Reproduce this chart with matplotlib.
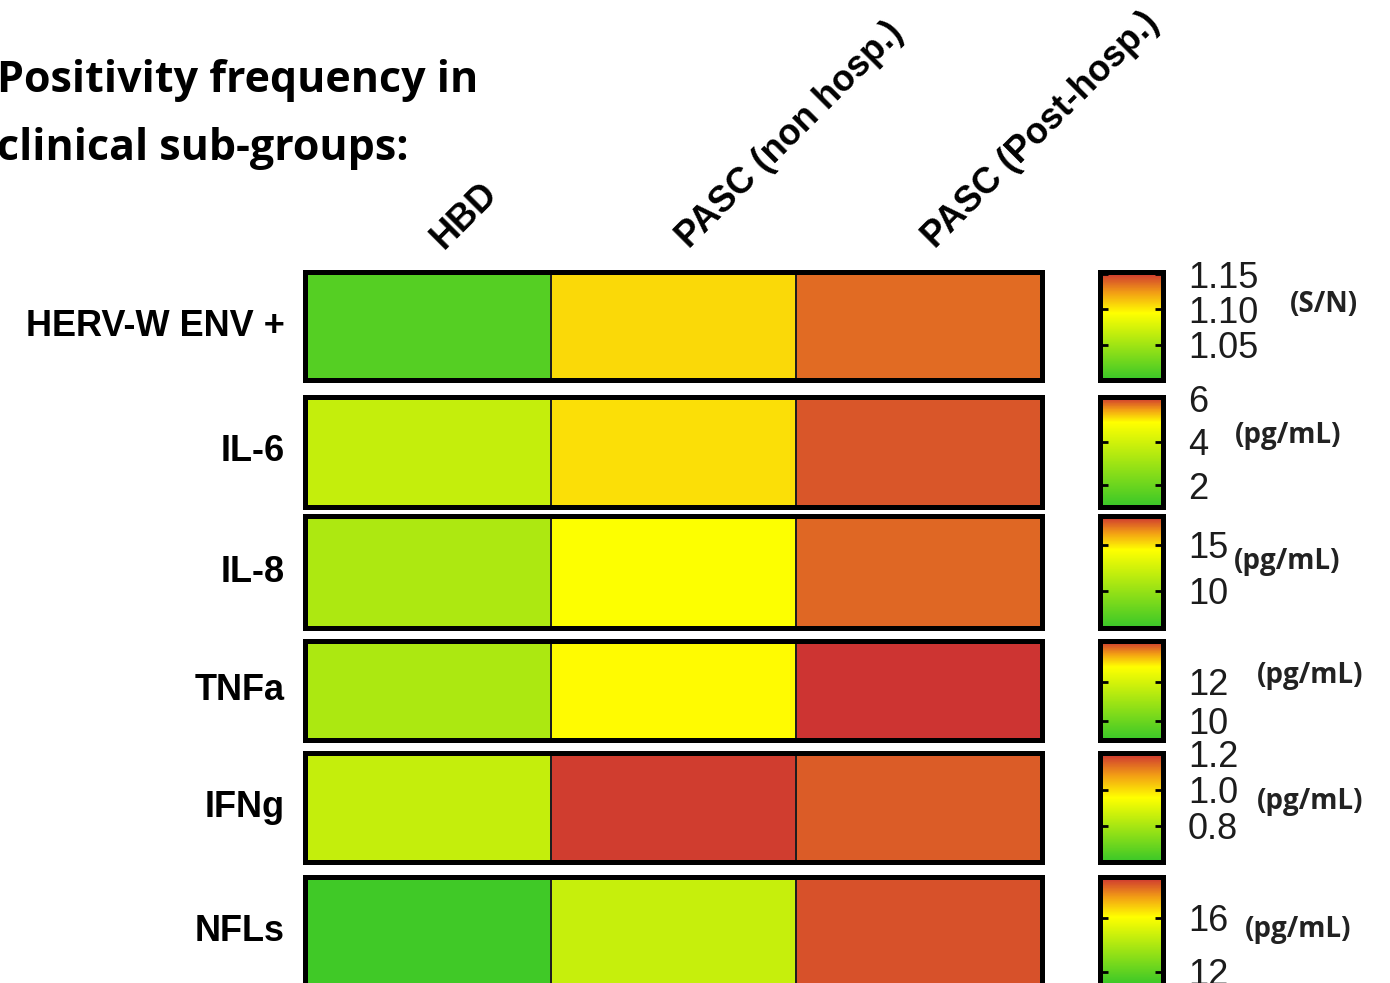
import numpy as np
import matplotlib.pyplot as plt
from matplotlib.colors import LinearSegmentedColormap, Normalize
from matplotlib.cm import ScalarMappable

# groups (columns) and markers (rows)
groups = ['HBD', 'PASC (non hosp.)', 'PASC (Post-hosp.)']
markers = ['HERV-W ENV +', 'IL-6', 'IL-8', 'TNFa', 'IFNg', 'NFLs']
units = ['(S/N)', '(pg/mL)', '(pg/mL)', '(pg/mL)', '(pg/mL)', '(pg/mL)']

# mean level per group
herv_w = [1.014, 1.106, 1.137]
il6 = [3.73, 5.07, 5.85]
il8 = [11.0, 14.4, 17.2]
tnfa = [11.2, 12.8, 14.08]
ifng = [0.851, 1.19, 1.155]
nfls = [11.2, 14.6, 18.55]

# colour scale limits for each marker
scale_lo = [1.0, 1.0, 6.0, 9.0, 0.6, 11.0]
scale_hi = [1.153, 6.05, 18.1, 14.1, 1.205, 19.0]
yellow_at = [0.62, 0.77, 0.70, 0.74, 0.59, 0.63]

cbar_ticks = [[1.05, 1.10, 1.15], [2, 4, 6], [10, 15], [10, 12], [0.8, 1.0, 1.2], [12, 16]]
cbar_labels = [['1.05', '1.10', '1.15'], ['2', '4', '6'], ['10', '15'],
               ['10', '12'], ['0.8', '1.0', '1.2'], ['12', '16']]

rows = [herv_w, il6, il8, tnfa, ifng, nfls]

W, H = 1390, 983
# pixel layout: (top, bottom) of each strip
strips = [(272, 380), (397, 507), (516, 628), (641, 740), (753, 862), (877, 985)]
unit_pos = [(1290, 305), (1235, 435), (1234, 562), (1257, 675), (1257, 802), (1245, 930)]

green = (0.22, 0.78, 0.16)
yellow = (1.0, 1.0, 0.0)
orange = (0.95, 0.62, 0.08)
red = (0.80, 0.19, 0.20)


def traffic_cmap(ypos):
    mid = ypos + (1 - ypos) / 2
    return LinearSegmentedColormap.from_list(
        'traffic', [(0, green), (ypos, yellow), (mid, orange), (1, red)])


fig = plt.figure(figsize=(W / 100, H / 100), dpi=100)

for i, vals in enumerate(rows):
    top, bot = strips[i]
    y0 = 1 - bot / H
    h = (bot - top) / H
    cmap = traffic_cmap(yellow_at[i])
    norm = Normalize(scale_lo[i], scale_hi[i])

    ax = fig.add_axes([305 / W, y0, 737 / W, h])
    ax.pcolormesh(np.arange(len(groups) + 1), [0, 1], [vals], cmap=cmap, norm=norm,
                  edgecolors='#1e1e1e', linewidth=1.2)
    ax.set_xlim(0, len(groups))
    ax.set_ylim(0, 1)
    ax.set_xticks([])
    ax.set_yticks([])
    for s in ax.spines.values():
        s.set_linewidth(3.6)
        s.set_color('black')
    ax.annotate(markers[i], xy=(0, 0.5), xycoords='axes fraction',
                xytext=(-14.4, 0), textcoords='offset points',
                ha='right', va='center', fontsize=26, fontweight='bold',
                family='Liberation Sans')
    if i == 0:
        for j, g in enumerate(groups):
            ax.annotate(g, xy=(j + 0.5, 1), xycoords=('data', 'axes fraction'),
                        xytext=(11.5, 16), textcoords='offset points',
                        rotation=45, rotation_mode='anchor', ha='left', va='baseline',
                        fontsize=26, fontweight='bold', family='Liberation Sans')

    cax = fig.add_axes([1100 / W, y0, 63 / W, h])
    cb = fig.colorbar(ScalarMappable(norm=norm, cmap=cmap), cax=cax)
    cb.outline.set_linewidth(3.6)
    cb.set_ticks(cbar_ticks[i], labels=cbar_labels[i])
    cb.minorticks_off()
    cax.yaxis.set_ticks_position('both')
    cax.tick_params(direction='in', length=5.5, width=2.0, color='black',
                    labelleft=False, labelright=True, pad=18,
                    labelsize=26, labelcolor='#1c1c1c')
    for t in cax.get_yticklabels():
        t.set_family('Liberation Sans')

    ux, uy = unit_pos[i]
    fig.text(ux / W, 1 - uy / H, units[i], ha='left', va='center',
             fontsize=20, fontweight='bold', family='Open Sans', color='#222222')

fig.text(-3 / W, 1 - 92 / H, 'Positivity frequency in', ha='left', va='baseline',
         fontsize=31, fontweight='bold', family='Open Sans')
fig.text(-3 / W, 1 - 160 / H, 'clinical sub-groups:', ha='left', va='baseline',
         fontsize=31, fontweight='bold', family='Open Sans')

fig.savefig('out.png', dpi=100)
